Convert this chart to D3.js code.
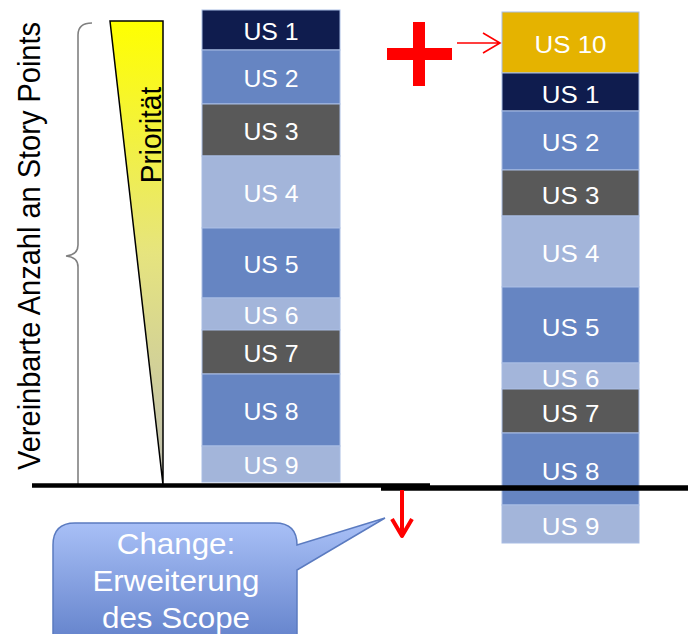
<!DOCTYPE html>
<html>
<head>
<meta charset="utf-8">
<script src="https://cdn.jsdelivr.net/npm/d3@7"></script>
<style>
  html, body { margin: 0; padding: 0; background: #fff; }
  svg { display: block; }
  text { font-family: "Liberation Sans", Arial, sans-serif; }
</style>
</head>
<body>
<svg id="chart" width="688" height="634"></svg>
<script>
// ---------- DATA ----------
const leftStories  = ["US 1", "US 2", "US 3", "US 4", "US 5", "US 6", "US 7", "US 8", "US 9"];
const leftPoints   = [4.0, 5.4, 5.2, 7.2, 7.0, 3.2, 4.4, 7.2, 3.6];
const rightStories = ["US 10", "US 1", "US 2", "US 3", "US 4", "US 5", "US 6", "US 7", "US 8", "US 9"];
const rightPoints  = [6.1, 3.8, 5.9, 4.6, 7.1, 7.6, 2.6, 4.4, 7.2, 3.8];
const storyNames   = ["US 1", "US 2", "US 3", "US 4", "US 5", "US 6", "US 7", "US 8", "US 9", "US 10"];
const storyColors  = ["#0f1c4e", "#6685c2", "#595959", "#a3b5da", "#6685c2", "#a3b5da", "#595959", "#6685c2", "#a3b5da", "#e5b300"];
const axisTitle    = "Vereinbarte Anzahl an Story Points";
const priorityText = "Priorität";
const calloutLines = ["Change:", "Erweiterung", "des Scope"];

// ---------- SETUP ----------
const svg = d3.select("#chart");
const defs = svg.append("defs");
const SX = 1.08; // horizontal stretch of the original picture
const color = d3.scaleOrdinal().domain(storyNames).range(storyColors);

const gTri = defs.append("linearGradient").attr("id", "triGrad")
  .attr("x1", 0).attr("y1", 0).attr("x2", 0).attr("y2", 1);
gTri.append("stop").attr("offset", "0").attr("stop-color", "#ffff00");
gTri.append("stop").attr("offset", "0.5").attr("stop-color", "#e6e47e");
gTri.append("stop").attr("offset", "1").attr("stop-color", "#bdbdb2");

const gCall = defs.append("linearGradient").attr("id", "callGrad")
  .attr("x1", 0).attr("y1", 0).attr("x2", 0).attr("y2", 1);
gCall.append("stop").attr("offset", "0").attr("stop-color", "#abc2f8");
gCall.append("stop").attr("offset", "1").attr("stop-color", "#5878c4");

// ---------- STACKS ----------
function stack(names, pts, x0, width, top, fontSize) {
  const total = d3.sum(pts);
  const y = d3.scaleLinear().domain([0, total]).range([top, top + total * 10]);
  let cum = 0;
  const rows = names.map((n, i) => { const r = {name: n, y0: cum, y1: cum + pts[i]}; cum += pts[i]; return r; });
  const g = svg.append("g");
  g.selectAll("rect").data(rows).join("rect")
    .attr("x", x0).attr("width", width)
    .attr("y", d => y(d.y0)).attr("height", d => y(d.y1) - y(d.y0))
    .attr("fill", d => color(d.name))
    .attr("stroke", "#a9bde4").attr("stroke-width", 1);
  g.selectAll("text").data(rows).join("text")
    .attr("transform", d => `translate(${x0 + width / 2},${(y(d.y0) + y(d.y1)) / 2 + 2}) scale(${SX},1)`)
    .attr("text-anchor", "middle").attr("dy", "0.36em")
    .attr("font-size", fontSize).attr("fill", "#ffffff")
    .text(d => d.name);
}
stack(leftStories, leftPoints, 202, 138, 10, 23);
stack(rightStories, rightPoints, 502, 137, 12, 24);

// ---------- PRIORITY TRIANGLE ----------
svg.append("path")
  .attr("d", "M110,21 L163,21 L163,485 Z")
  .attr("fill", "url(#triGrad)").attr("stroke", "#000").attr("stroke-width", 1.5);
svg.append("text")
  .attr("transform", `translate(161,135) scale(${SX},1) rotate(-90)`)
  .attr("text-anchor", "middle").attr("font-size", 28).attr("fill", "#000")
  .text(priorityText);

// ---------- BRACE + AXIS TITLE ----------
svg.append("path")
  .attr("d", "M92,23 Q78,23 78,35 V245 Q78,255 66,256 Q78,257 78,267 V485")
  .attr("fill", "none").attr("stroke", "#808080").attr("stroke-width", 1.6);
svg.append("text")
  .attr("transform", `translate(40,246) scale(${SX},1) rotate(-90)`)
  .attr("text-anchor", "middle").attr("font-size", 29).attr("fill", "#000")
  .text(axisTitle);

// ---------- BASELINES ----------
svg.append("line").attr("x1", 32).attr("x2", 430).attr("y1", 485.5).attr("y2", 485.5)
  .attr("stroke", "#000").attr("stroke-width", 4.5);
svg.append("line").attr("x1", 381).attr("x2", 688).attr("y1", 488).attr("y2", 488)
  .attr("stroke", "#000").attr("stroke-width", 5.5);

// ---------- RED PLUS + ARROWS ----------
svg.append("path")
  .attr("d", "M387,48 H413 V22 H425 V48 H452 V60 H425 V86 H413 V60 H387 Z")
  .attr("fill", "#ff0000");
svg.append("path")
  .attr("d", "M457,43 H500 M483,33 L500,43 L483,53")
  .attr("fill", "none").attr("stroke", "#ff0000").attr("stroke-width", 1.6);
svg.append("path")
  .attr("d", "M402,490 V536 M392,519 L402,536 L412,519")
  .attr("fill", "none").attr("stroke", "#ff0000").attr("stroke-width", 4)
  .attr("stroke-linejoin", "round");

// ---------- CALLOUT ----------
const cx0 = 53, cx1 = 297, cy0 = 523, cy1 = 662, r = 22;
svg.append("path")
  .attr("d", `M${cx0 + r},${cy0} H${cx1 - r} Q${cx1},${cy0} ${cx1},${cy0 + r} L385,518 L${cx1},570 V${cy1 - r} Q${cx1},${cy1} ${cx1 - r},${cy1} H${cx0 + r} Q${cx0},${cy1} ${cx0},${cy1 - r} V${cy0 + r} Q${cx0},${cy0} ${cx0 + r},${cy0} Z`)
  .attr("fill", "url(#callGrad)").attr("stroke", "#5b7bc0").attr("stroke-width", 1.5);
svg.selectAll("text.call").data(calloutLines).join("text").attr("class", "call")
  .attr("transform", (d, i) => `translate(176,${554 + i * 37}) scale(${SX},1)`)
  .attr("text-anchor", "middle").attr("font-size", 29).attr("fill", "#ffffff")
  .text(d => d);
</script>
</body>
</html>
